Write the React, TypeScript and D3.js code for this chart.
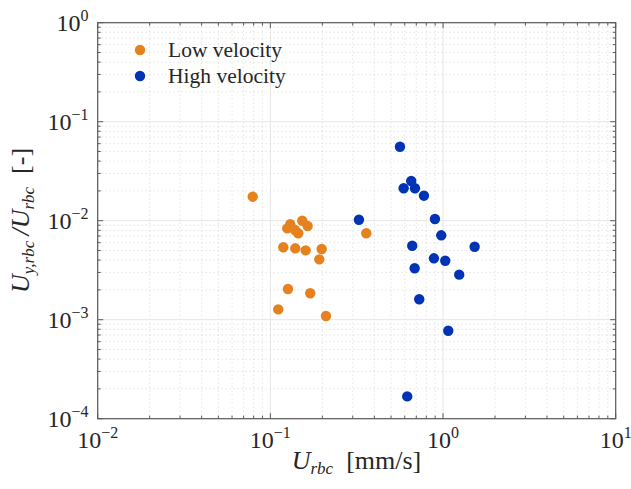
import React from "react";
import * as d3 from "d3";

const lowX = [0.079, 0.1253, 0.1304, 0.1388, 0.145, 0.153, 0.1644, 0.1188, 0.1394, 0.1601, 0.1982, 0.192, 0.1264, 0.1702, 0.1111, 0.2099, 0.3592];
const lowY = [0.01748, 0.00837, 0.0092, 0.00806, 0.00746, 0.01, 0.00884, 0.00539, 0.00526, 0.00502, 0.00518, 0.00407, 0.00204, 0.00185, 0.00127, 0.00109, 0.00746];
const highX = [0.3258, 0.5631, 0.6543, 0.5914, 0.6877, 0.7752, 0.8977, 0.9763, 0.6631, 1.524, 0.8857, 1.03, 0.6849, 1.241, 0.7281, 1.072, 0.6203];
const highY = [0.01023, 0.0559, 0.02518, 0.02125, 0.02125, 0.01789, 0.0104, 0.00712, 0.00559, 0.00546, 0.00417, 0.00394, 0.00331, 0.00285, 0.00161, 0.000774, 0.000168];
const seriesNames = ["Low velocity", "High velocity"];
const xExps = [-2, -1, 0, 1];
const yExps = [0, -1, -2, -3, -4];

const ORANGE = "#E6821E";
const BLUE = "#0033B5";
const FONT = "'Liberation Serif', 'DejaVu Serif', serif";

export default function App() {
  const W = 631, H = 489;
  const L = 97.7, R = 615.7, T = 22.7, B = 418.7;
  const x = d3.scaleLog().domain([0.01, 10]).range([L, R]);
  const y = d3.scaleLog().domain([1e-4, 1]).range([B, T]);

  const xMinor: number[] = [];
  for (let e = -2; e < 1; e++) for (let k = 2; k <= 9; k++) xMinor.push(k * Math.pow(10, e));
  const yMinor: number[] = [];
  for (let e = -4; e < 0; e++) for (let k = 2; k <= 9; k++) yMinor.push(k * Math.pow(10, e));
  const xMajor = xExps.map((e) => Math.pow(10, e));
  const yMajor = yExps.map((e) => Math.pow(10, e));

  const axisColor = "#5a5a5a";
  const textColor = "#262626";
  const low = lowX.map((v, i) => [v, lowY[i]]);
  const high = highX.map((v, i) => [v, highY[i]]);

  const fmt = (e: number) => (e < 0 ? "\u2212" + Math.abs(e) : String(e));

  return (
    <svg width={W} height={H} style={{ position: "absolute", left: 0, top: 0 }} fontFamily={FONT}>
      <rect x={0} y={0} width={W} height={H} fill="#fff" />
      {xMinor.map((v, i) => (
        <line key={"xm" + i} x1={x(v)} x2={x(v)} y1={T} y2={B} stroke="#cfcfcf" strokeWidth={0.8} strokeDasharray="1,3" />
      ))}
      {yMinor.map((v, i) => (
        <line key={"ym" + i} x1={L} x2={R} y1={y(v)} y2={y(v)} stroke="#cfcfcf" strokeWidth={0.8} strokeDasharray="1,3" />
      ))}
      {xMajor.map((v, i) => (
        <line key={"xM" + i} x1={x(v)} x2={x(v)} y1={T} y2={B} stroke="#e6e6e6" strokeWidth={1} />
      ))}
      {yMajor.map((v, i) => (
        <line key={"yM" + i} x1={L} x2={R} y1={y(v)} y2={y(v)} stroke="#e6e6e6" strokeWidth={1} />
      ))}
      {low.map((p, i) => (
        <circle key={"l" + i} cx={x(p[0])} cy={y(p[1])} r={5.2} fill={ORANGE} />
      ))}
      {high.map((p, i) => (
        <circle key={"h" + i} cx={x(p[0])} cy={y(p[1])} r={5.2} fill={BLUE} />
      ))}
      {xMinor.map((v, i) => (
        <g key={"xt" + i}>
          <line x1={x(v)} x2={x(v)} y1={B} y2={B - 3} stroke={axisColor} />
          <line x1={x(v)} x2={x(v)} y1={T} y2={T + 3} stroke={axisColor} />
        </g>
      ))}
      {xMajor.map((v, i) => (
        <g key={"xT" + i}>
          <line x1={x(v)} x2={x(v)} y1={B} y2={B - 5.5} stroke={axisColor} />
          <line x1={x(v)} x2={x(v)} y1={T} y2={T + 5.5} stroke={axisColor} />
        </g>
      ))}
      {yMinor.map((v, i) => (
        <g key={"yt" + i}>
          <line x1={L} x2={L + 3} y1={y(v)} y2={y(v)} stroke={axisColor} />
          <line x1={R} x2={R - 3} y1={y(v)} y2={y(v)} stroke={axisColor} />
        </g>
      ))}
      {yMajor.map((v, i) => (
        <g key={"yT" + i}>
          <line x1={L} x2={L + 5.5} y1={y(v)} y2={y(v)} stroke={axisColor} />
          <line x1={R} x2={R - 5.5} y1={y(v)} y2={y(v)} stroke={axisColor} />
        </g>
      ))}
      <rect x={L} y={T} width={R - L} height={B - T} fill="none" stroke={axisColor} strokeWidth={1.2} />
      {xExps.map((e, i) => (
        <text key={"xl" + i} x={x(Math.pow(10, e))} y={447.5} textAnchor="middle" fontSize={24} fill={textColor}>
          10<tspan dy={-10} fontSize={16}>{fmt(e)}</tspan>
        </text>
      ))}
      {yExps.map((e, i) => (
        <text key={"yl" + i} x={88.5} y={y(Math.pow(10, e)) + 8} textAnchor="end" fontSize={24} fill={textColor}>
          10<tspan dy={-10} fontSize={16}>{fmt(e)}</tspan>
        </text>
      ))}
      <text x={356.5} y={469} textAnchor="middle" fontSize={26} fill={textColor}>
        <tspan fontStyle="italic">U</tspan>
        <tspan fontStyle="italic" fontSize={17} dy={5}>rbc</tspan>
        <tspan dy={-5}>{"\u00a0\u00a0[mm/s]"}</tspan>
      </text>
      <text transform="translate(29,220.5) rotate(-90)" textAnchor="middle" fontSize={26} fill={textColor}>
        <tspan fontStyle="italic">U</tspan>
        <tspan fontStyle="italic" fontSize={17} dy={5}>y,rbc</tspan>
        <tspan dy={-5} fontStyle="italic">{"\u2009/U"}</tspan>
        <tspan fontStyle="italic" fontSize={17} dy={5}>rbc</tspan>
        <tspan dy={-5}>{"\u00a0\u00a0[-]"}</tspan>
      </text>
      {seriesNames.map((n, i) => (
        <g key={"lg" + i}>
          <circle cx={140} cy={50 + i * 26} r={5.2} fill={i === 0 ? ORANGE : BLUE} />
          <text x={168} y={57 + i * 26} fontSize={21.5} fill={textColor}>{n}</text>
        </g>
      ))}
    </svg>
  );
}
